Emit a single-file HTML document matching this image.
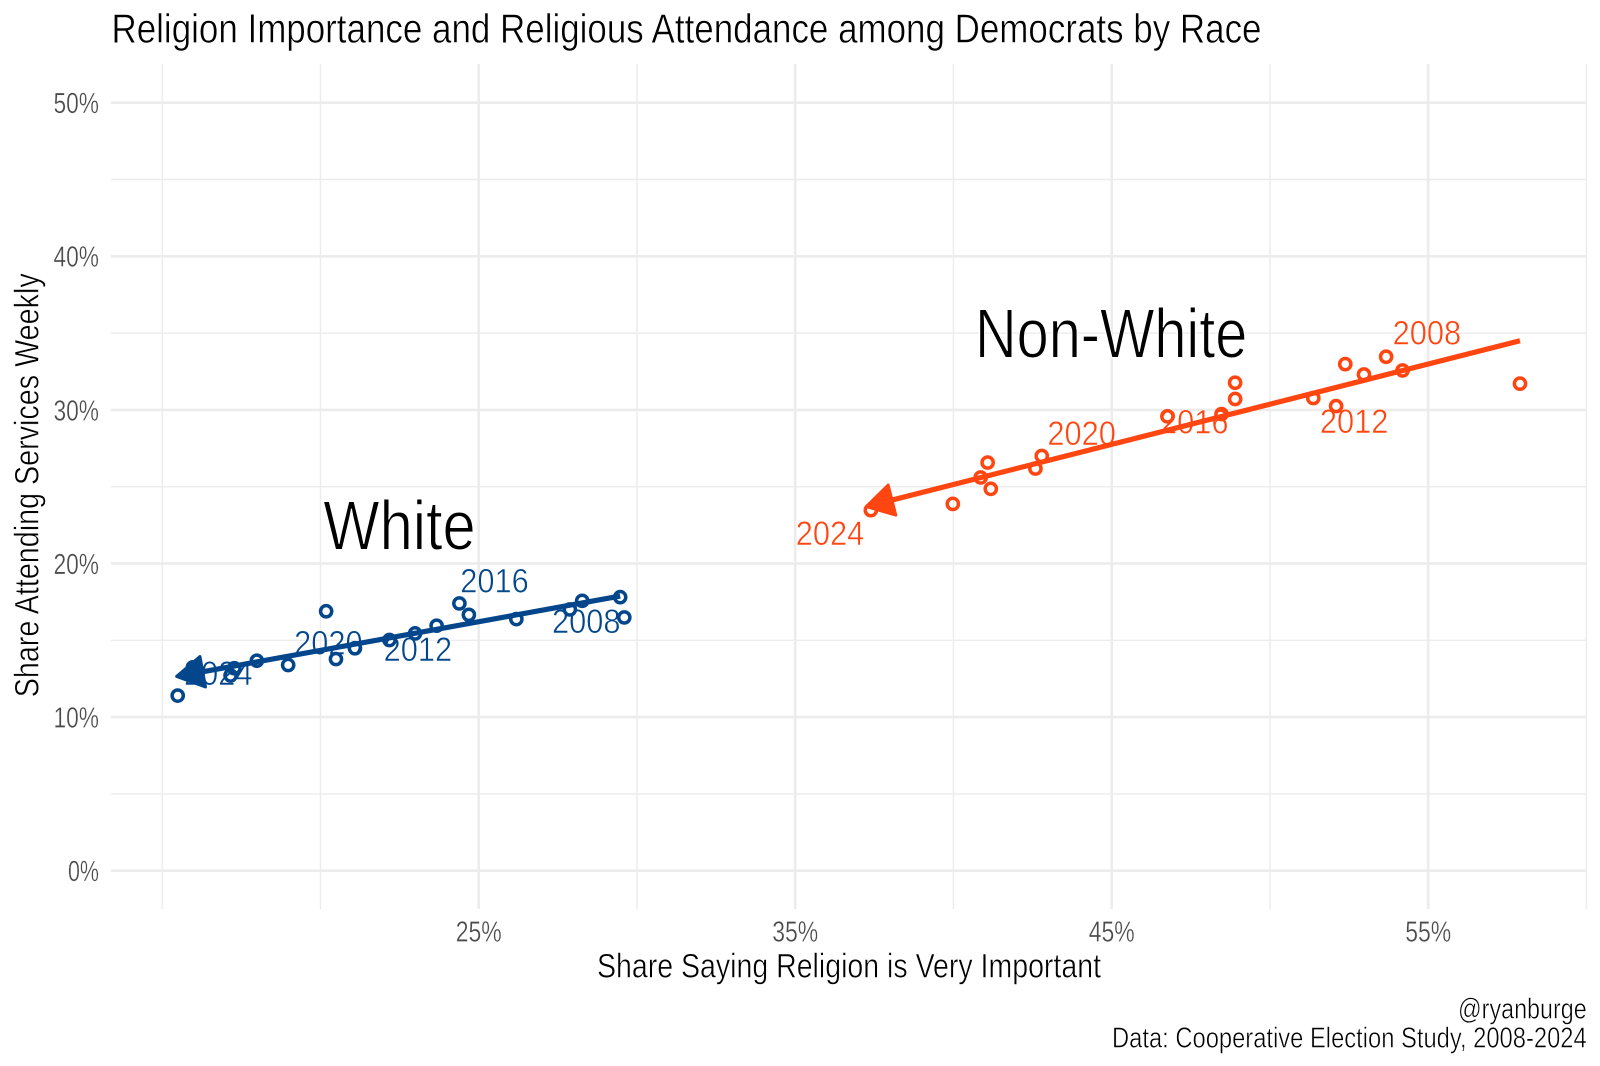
<!DOCTYPE html>
<html lang="en">
<head>
<meta charset="utf-8">
<title>Religion Importance and Religious Attendance among Democrats by Race</title>
<style>
  html, body { margin: 0; padding: 0; background: #fff; }
  svg { display: block; }
  text { font-family: "Liberation Sans", sans-serif; }
  .thin { stroke: #ffffff; stroke-width: 0.55px; }
  .thin-tick { stroke: #ffffff; stroke-width: 0.35px; }
  .thin-big { stroke: #ffffff; stroke-width: 1.1px; }
</style>
</head>
<body>
<svg id="chart" xmlns="http://www.w3.org/2000/svg" width="1600" height="1066" viewBox="0 0 1600 1066">
  <rect x="0" y="0" width="1600" height="1066" fill="#ffffff"/>
  <g id="grid"></g>
  <g id="ticks"></g>
  <g id="marks"></g>
  <text class="thin" x="111.5" y="42.5" font-size="41" fill="#000" textLength="1150" lengthAdjust="spacingAndGlyphs">Religion Importance and Religious Attendance among Democrats by Race</text>
  <text class="thin" x="597" y="977.7" font-size="34.5" fill="#000" textLength="504" lengthAdjust="spacingAndGlyphs">Share Saying Religion is Very Important</text>
  <text class="thin" transform="translate(38.3 697.3) rotate(-90)" x="0" y="0" font-size="34.5" fill="#000" textLength="424" lengthAdjust="spacingAndGlyphs">Share Attending Services Weekly</text>
  <text class="thin" x="1458" y="1018.3" font-size="28.5" fill="#000" textLength="128.7" lengthAdjust="spacingAndGlyphs">@ryanburge</text>
  <text class="thin" x="1112" y="1047.3" font-size="28.5" fill="#000" textLength="474.7" lengthAdjust="spacingAndGlyphs">Data: Cooperative Election Study, 2008-2024</text>
  <text class="thin-big" x="323.3" y="549.3" font-size="70" fill="#000" textLength="152.4" lengthAdjust="spacingAndGlyphs">White</text>
  <text class="thin-big" x="975" y="357.3" font-size="70" fill="#000" textLength="272.3" lengthAdjust="spacingAndGlyphs">Non-White</text>
</svg>
<script>
// ---- Data (percent values) ----
const xTickValues = [25, 35, 45, 55];
const xTickLabels = ['25%', '35%', '45%', '55%'];
const xMinorValues = [15, 20, 30, 40, 50, 60];
const yTickValues = [0, 10, 20, 30, 40, 50];
const yTickLabels = ['0%', '10%', '20%', '30%', '40%', '50%'];
const yMinorValues = [5, 15, 25, 35, 45];

const whiteImportance = [15.49, 15.97, 17.16, 17.28, 17.99, 18.98, 20.18, 20.49, 21.09, 22.18, 22.99, 23.67, 24.39, 24.69, 26.19, 27.88, 28.27, 29.47, 29.6];
const whiteAttendance = [11.40, 13.24, 12.71, 13.18, 13.67, 13.39, 16.89, 13.78, 14.48, 15.02, 15.45, 15.95, 17.40, 16.66, 16.38, 17.01, 17.57, 17.81, 16.49];
const whiteTrendImportance = [29.47, 15.41];
const whiteTrendAttendance = [17.88, 12.63];

const nonWhiteImportance = [37.39, 39.98, 40.86, 41.08, 41.18, 42.59, 42.79, 46.76, 48.47, 48.9, 48.9, 51.37, 52.09, 52.38, 52.97, 53.67, 54.19, 57.9];
const nonWhiteAttendance = [23.47, 23.88, 25.6, 26.57, 24.86, 26.18, 27.0, 29.58, 29.73, 30.71, 31.77, 30.77, 30.25, 32.98, 32.31, 33.46, 32.57, 31.71];
const nonWhiteTrendImportance = [57.9, 37.2];
const nonWhiteTrendAttendance = [34.5, 23.68];

const yearLabels = ['2008', '2012', '2016', '2020', '2024'];
const whiteLabelImportance = [28.40, 23.08, 25.50, 20.25, 16.77];
const whiteLabelAttendance = [15.49, 13.65, 18.12, 14.09, 12.09];
const nonWhiteLabelImportance = [54.96, 52.66, 47.61, 44.05, 36.10];
const nonWhiteLabelAttendance = [34.25, 28.50, 28.46, 27.70, 21.20];

// ---- Axis functions ----
function xScale(v) { return 478.7 + (v - 25) * 31.65; }
function yScale(v) { return 870.7 - v * 15.36; }

const SVG_NS = 'http://www.w3.org/2000/svg';
const gridGroup = document.getElementById('grid');
const tickGroup = document.getElementById('ticks');
const markGroup = document.getElementById('marks');
const PLOT_LEFT = 111, PLOT_RIGHT = 1587, PLOT_TOP = 64, PLOT_BOTTOM = 909;
const GRID_COLOR = '#ececec';

function makeLine(x1, y1, x2, y2, color, width) {
  const el = document.createElementNS(SVG_NS, 'line');
  el.setAttribute('x1', x1);
  el.setAttribute('y1', y1);
  el.setAttribute('x2', x2);
  el.setAttribute('y2', y2);
  el.setAttribute('stroke', color);
  el.setAttribute('stroke-width', width);
  return el;
}

function makeText(str, x, y, size, color, anchor, width, cls) {
  const el = document.createElementNS(SVG_NS, 'text');
  el.textContent = str;
  el.setAttribute('y', y);
  el.setAttribute('font-size', size);
  el.setAttribute('fill', color);
  el.setAttribute('class', cls);
  let left = x;
  if (anchor === 'middle') left = x - width / 2;
  if (anchor === 'end') left = x - width;
  el.setAttribute('x', left);
  el.setAttribute('textLength', width);
  el.setAttribute('lengthAdjust', 'spacingAndGlyphs');
  return el;
}

// ---- Grid ----
yMinorValues.forEach(function (v) {
  const el = makeLine(PLOT_LEFT, yScale(v), PLOT_RIGHT, yScale(v), GRID_COLOR, 1.4);
  
  
  gridGroup.appendChild(el);
});
xMinorValues.forEach(function (v) {
  const el = makeLine(xScale(v), PLOT_TOP, xScale(v), PLOT_BOTTOM, GRID_COLOR, 1.4);
  
  
  gridGroup.appendChild(el);
});
yTickValues.forEach(function (v) {
  const el = makeLine(PLOT_LEFT, yScale(v), PLOT_RIGHT, yScale(v), GRID_COLOR, 2.6);
  
  
  gridGroup.appendChild(el);
});
xTickValues.forEach(function (v) {
  const el = makeLine(xScale(v), PLOT_TOP, xScale(v), PLOT_BOTTOM, GRID_COLOR, 2.6);
  
  
  gridGroup.appendChild(el);
});

// ---- Tick labels ----
const TICK_COLOR = '#4a4a4a';
xTickValues.forEach(function (v, i) {
  const el = makeText(xTickLabels[i], xScale(v), 941.7, 29, TICK_COLOR, 'middle', 46, 'thin-tick');
  
  
  tickGroup.appendChild(el);
});
yTickValues.forEach(function (v, i) {
  const w = yTickLabels[i].length === 2 ? 31 : 45.5;
  const el = makeText(yTickLabels[i], 99, yScale(v) + 10.4, 29, TICK_COLOR, 'end', w, 'thin-tick');
  
  
  tickGroup.appendChild(el);
});

// ---- Series ----
function drawPoints(xs, ys, color, name) {
  xs.forEach(function (v, i) {
    const el = document.createElementNS(SVG_NS, 'circle');
    el.setAttribute('cx', xScale(v));
    el.setAttribute('cy', yScale(ys[i]));
    el.setAttribute('r', 5.6);
    el.setAttribute('fill', 'none');
    el.setAttribute('stroke', color);
    el.setAttribute('stroke-width', 3.5);
    
    
    markGroup.appendChild(el);
  });
}

function drawTrend(xs, ys, color, lineName, headName) {
  const x1 = xScale(xs[0]), y1 = yScale(ys[0]);
  const x2 = xScale(xs[1]), y2 = yScale(ys[1]);
  const len = Math.hypot(x1 - x2, y1 - y2);
  const ux = (x1 - x2) / len, uy = (y1 - y2) / len;
  const line = makeLine(x1, y1, x2 + ux * 20, y2 + uy * 20, color, 5.2);
  
  
  markGroup.appendChild(line);
  const L = 28, W = 15.5;
  const tipX = x2 + ux * 1.5, tipY = y2 + uy * 1.5;
  const bx = x2 + ux * L, by = y2 + uy * L;
  const head = document.createElementNS(SVG_NS, 'polygon');
  head.setAttribute('points',
    tipX + ',' + tipY + ' ' +
    (bx - uy * W) + ',' + (by + ux * W) + ' ' +
    (bx + uy * W) + ',' + (by - ux * W));
  head.setAttribute('fill', color);
  head.setAttribute('stroke', color);
  head.setAttribute('stroke-width', 3);
  head.setAttribute('stroke-linejoin', 'round');
  
  
  markGroup.appendChild(head);
}

function drawYearLabels(xs, ys, color, name) {
  yearLabels.forEach(function (label, i) {
    const el = makeText(label, xScale(xs[i]), yScale(ys[i]), 34.5, color, 'middle', 68.5, 'thin');
    
    
    markGroup.appendChild(el);
  });
}

const WHITE_COLOR = '#03468c';
const NON_WHITE_COLOR = '#ff4510';

drawYearLabels(whiteLabelImportance, whiteLabelAttendance, WHITE_COLOR, 'white-year-label');
drawYearLabels(nonWhiteLabelImportance, nonWhiteLabelAttendance, NON_WHITE_COLOR, 'non-white-year-label');
drawPoints(whiteImportance, whiteAttendance, WHITE_COLOR, 'white-point');
drawPoints(nonWhiteImportance, nonWhiteAttendance, NON_WHITE_COLOR, 'non-white-point');
drawTrend(whiteTrendImportance, whiteTrendAttendance, WHITE_COLOR, 'white-trend-line', 'white-trend-arrowhead');
drawTrend(nonWhiteTrendImportance, nonWhiteTrendAttendance, NON_WHITE_COLOR, 'non-white-trend-line', 'non-white-trend-arrowhead');
</script>
</body>
</html>
